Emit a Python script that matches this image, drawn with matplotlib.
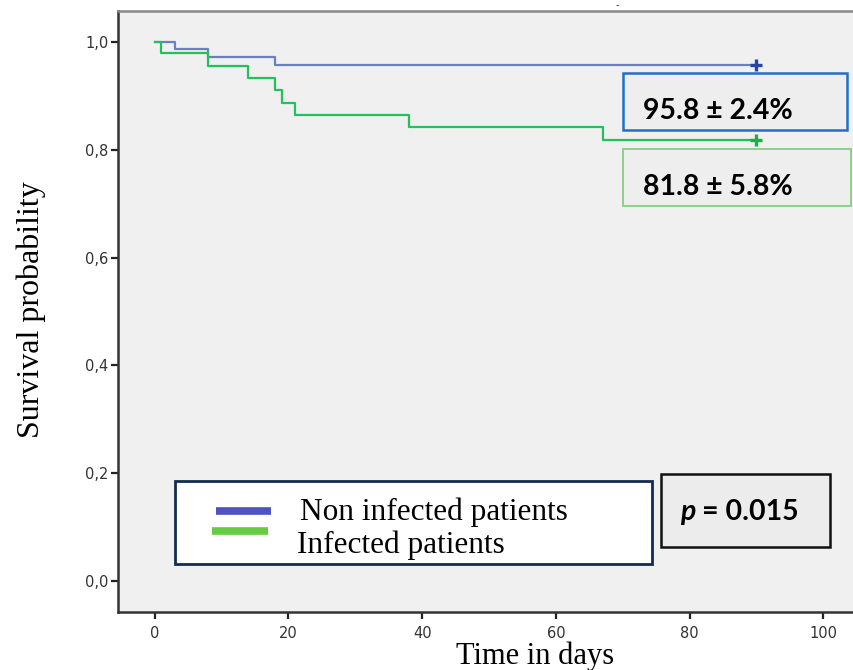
import matplotlib
matplotlib.use("Agg")
import matplotlib.pyplot as plt
from matplotlib.patches import Rectangle
from matplotlib.lines import Line2D

# ---- data ----
non_inf_days = [0, 3, 8, 18, 90]
non_inf_surv = [1.0, 0.987, 0.973, 0.958, 0.958]
inf_days = [0, 1, 8, 14, 18, 19, 21, 38, 67, 90]
inf_surv = [1.0, 0.979, 0.955, 0.933, 0.911, 0.887, 0.864, 0.842, 0.818, 0.818]
censor_day = 90
series_labels = ["Non infected patients", "Infected patients"]
box_texts = ["95.8 \u00b1 2.4%", "81.8 \u00b1 5.8%"]
x_ticks = [0, 20, 40, 60, 80, 100]
y_ticks = [0.0, 0.2, 0.4, 0.6, 0.8, 1.0]
y_ticklabels = ["0,0", "0,2", "0,4", "0,6", "0,8", "1,0"]

W, H = 854, 670
fig = plt.figure(figsize=(W / 100, H / 100), dpi=100)
fig.patch.set_facecolor("white")

def fx(px):
    return px / W

def fy(py):
    return 1 - py / H

ax = fig.add_axes([fx(118), fy(612), fx(860) - fx(118), fy(11) - fy(612)])
ax.set_facecolor("#f0f0f0")
ax.set_xlim(-5.5, 105.5)
ax.set_ylim(-0.0575, 1.0575)

ax.step(non_inf_days, non_inf_surv, where="post", color="#6b7fc4", lw=1.6)
ax.step(inf_days, inf_surv, where="post", color="#22c15e", lw=1.6)
ax.plot([censor_day], [non_inf_surv[-1]], marker="+", color="#2346a8",
        ms=9, mew=2.4)
ax.plot([censor_day], [inf_surv[-1]], marker="+", color="#18b048",
        ms=9, mew=2.4)

ax.set_xticks(x_ticks)
ax.set_xticklabels([str(t) for t in x_ticks])
ax.set_yticks(y_ticks)
ax.set_yticklabels(y_ticklabels)
ax.tick_params(axis="both", direction="out", length=5, width=1.6,
               color="#222222", labelsize=10.5, labelcolor="#333333")
ax.tick_params(axis="x", pad=5)
ax.tick_params(axis="y", pad=2)
for s in ["left", "bottom"]:
    ax.spines[s].set_color("#333333")
    ax.spines[s].set_linewidth(1.8)
ax.spines["top"].set_color("#888888")
ax.spines["top"].set_linewidth(1.8)
ax.spines["right"].set_visible(False)

serif = ["Liberation Serif", "DejaVu Serif"]
fig.text(fx(535), fy(656), "Time in days", family=serif, fontsize=22,
         ha="center", va="center")
fig.text(fx(31), fy(310), "Survival probability", family=serif, fontsize=23,
         ha="center", va="center", rotation=90)

# value boxes
fig.patches.append(Rectangle((fx(623), fy(130)), fx(847) - fx(623), fy(73) - fy(130),
                             transform=fig.transFigure, facecolor="#eeeeee",
                             edgecolor="#1f6fc8", lw=1.8))
fig.patches.append(Rectangle((fx(623), fy(206)), fx(851) - fx(623), fy(149) - fy(206),
                             transform=fig.transFigure, facecolor="#eeeeee",
                             edgecolor="#8fd08a", lw=1.4))
sans_b = ["Lato", "DejaVu Sans"]
fig.text(fx(643), fy(111), box_texts[0], family=sans_b, fontweight="bold",
         fontsize=20.5, ha="left", va="center")
fig.text(fx(643), fy(187), box_texts[1], family=sans_b, fontweight="bold",
         fontsize=20.5, ha="left", va="center")

# legend box
fig.patches.append(Rectangle((fx(175), fy(564)), fx(652) - fx(175), fy(481) - fy(564),
                             transform=fig.transFigure, facecolor="white",
                             edgecolor="#132c50", lw=2.0))
fig.lines.append(Line2D([fx(216), fx(271)], [fy(511), fy(511)], transform=fig.transFigure,
                        color="#4f52c4", lw=5.5, solid_capstyle="butt"))
fig.lines.append(Line2D([fx(212), fx(268)], [fy(531), fy(531)], transform=fig.transFigure,
                        color="#66cc44", lw=5.5, solid_capstyle="butt"))
fig.text(fx(300), fy(512), series_labels[0], family=serif, fontsize=22.5,
         ha="left", va="center")
fig.text(fx(297), fy(545), series_labels[1], family=serif, fontsize=22.5,
         ha="left", va="center")

# p-value box
fig.patches.append(Rectangle((fx(661), fy(547)), fx(830) - fx(661), fy(474) - fy(547),
                             transform=fig.transFigure, facecolor="#ececec",
                             edgecolor="#111111", lw=1.8))
fig.text(fx(680), fy(512), "p", family=sans_b, fontweight="bold", style="italic",
         fontsize=20.5, ha="left", va="center")
fig.text(fx(702), fy(512), "= 0.015", family=sans_b, fontweight="bold",
         fontsize=20.5, ha="left", va="center")

fig.text(fx(617), fy(5), "-", fontsize=7, ha="center", va="center", color="#333333")

fig.savefig("out.png", dpi=100)
